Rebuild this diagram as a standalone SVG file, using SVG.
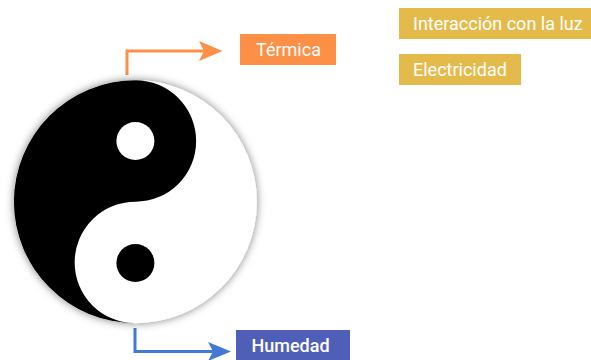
<svg xmlns="http://www.w3.org/2000/svg" width="591" height="360" viewBox="0 0 591 360">
<style>
.lbl{font-family:Roboto,"Liberation Sans",sans-serif;font-size:18px;fill:#fff}
.gold{fill:#e4bb4b}
.conn{fill:none;stroke-width:3}
</style>
<defs>
<filter id="sh" x="-15%" y="-15%" width="130%" height="130%"><feDropShadow dx="0" dy="0" stdDeviation="4" flood-color="#000" flood-opacity=".5"/></filter>
</defs>
<rect width="591" height="360" fill="#fff"/>
<g id="connectors">
<path class="conn" stroke="#fd8f47" d="M127 75V51H208"/>
<path fill="#fd8f47" d="M199 41L222.500 51L199 61L204 51Z"/>
<path class="conn" stroke="#4179d4" d="M135 328V351.500H218"/>
<path fill="#4179d4" d="M208 342L231 351.500L208 361L213 351.500Z"/>
</g>
<g id="yinyang">
<circle cx="135.400" cy="201.700" r="121.500" fill="#fff" filter="url(#sh)"/>
<path fill="#000" d="M135.400 80.200A121.500 121.500 0 0 0 135.400 323.200A60.750 60.750 0 0 1 135.400 201.700A60.750 60.750 0 0 0 135.400 80.200Z"/>
<circle cx="135.400" cy="141" r="19" fill="#fff"/>
<circle cx="135.400" cy="263" r="19" fill="#000"/>
</g>
<g id="termica"><rect x="240" y="34" width="96" height="31" fill="#fd8f47"/><text class="lbl" x="288.500" y="55.500" text-anchor="middle">Térmica</text></g>
<g id="humedad"><rect x="236" y="330" width="114" height="30" fill="#4f5fb8"/><text class="lbl" x="290.500" y="351.500" text-anchor="middle" style="font-weight:500">Humedad</text></g>
<g id="luz"><rect class="gold" x="399" y="8" width="192" height="31"/><text class="lbl" x="413" y="29.500">Interacción con la luz</text></g>
<g id="electricidad"><rect class="gold" x="399" y="54" width="122" height="31"/><text class="lbl" x="413" y="75.500">Electricidad</text></g>
</svg>
